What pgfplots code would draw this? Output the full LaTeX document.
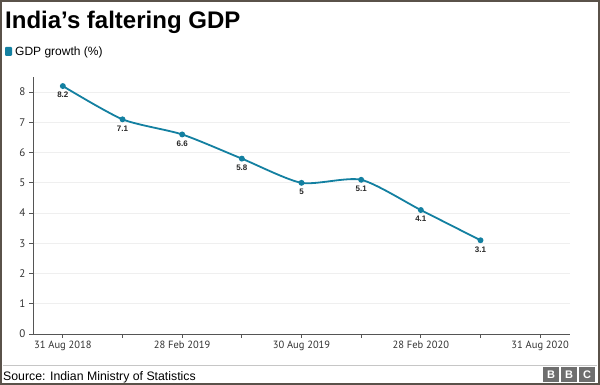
\documentclass[border=0pt]{standalone}
\usepackage{pgfplots}
\pgfplotsset{compat=1.18}
\usepackage{fontspec}
\setmainfont{Liberation Sans}
\newfontfamily\tickfont{PT Sans}
\definecolor{bbcteal}{HTML}{1380A1}
\definecolor{framec}{HTML}{5A524A}
\definecolor{axisc}{HTML}{555555}
\definecolor{gridc}{HTML}{EFEFEF}
\definecolor{logoc}{HTML}{6E6E6E}
\begin{document}
\begin{tikzpicture}[x=1pt,y=1pt]
\fill[white] (0,0) rectangle (600,385);
\draw[framec,line width=2.2pt] (1.1,1.1) rectangle (598.9,383.9);
\node[anchor=base west,inner sep=0pt,font=\fontsize{24}{28}\selectfont\bfseries] at (5,356) {India’s faltering GDP};
\fill[bbcteal,rounded corners=1pt] (5,329) rectangle (12,338);
\node[anchor=base west,inner sep=0pt,font=\fontsize{12}{14}\selectfont] at (15,329.5) {GDP growth (\%)};
\draw[gray!45,line width=0.8pt] (3,20) -- (597,20);
\node[anchor=base west,inner sep=0pt,font=\fontsize{12.3}{14}\selectfont] at (3,4) {Source: Indian Ministry of Statistics};
\foreach \i/\l in {0/B,1/B,2/C}{
  \fill[logoc] (543+\i*18,3) rectangle (559+\i*18,18);
  \node[white,font=\fontsize{11}{12}\selectfont\bfseries,inner sep=0pt] at (551+\i*18,10.5) {\l};
}
\begin{axis}[
  at={(33pt,51pt)}, anchor=south west,
  scale only axis, width=537pt, height=257pt,
  xmin=-0.5, xmax=8.5, ymin=0, ymax=8.5,
  axis lines*=left,
  axis line style={axisc,line width=0.9pt},
  xtick={0,...,8},
  xticklabels={31 Aug 2018,,28 Feb 2019,,30 Aug 2019,,28 Feb 2020,,31 Aug 2020},
  ytick={0,...,8},
  tick align=outside,
  major tick length=4pt,
  tick style={axisc,line width=0.9pt},
  ymajorgrids,
  grid style={gridc,line width=0.8pt},
  ticklabel style={font=\tickfont\fontsize{10.5}{12}\selectfont, text=black!80},
  yticklabel style={font=\tickfont\fontsize{11}{12}\selectfont},
  /pgf/number format/assume math mode=true,
  xticklabel style={yshift=1pt},
  clip=false,
]
\addplot[bbcteal,line width=1.8pt,smooth,tension=0.42,mark=*,mark size=2pt,
  mark options={fill=bbcteal,draw=bbcteal},
  nodes near coords,
  point meta=explicit symbolic,
  every node near coord/.append style={anchor=north,yshift=-2pt,font=\fontsize{8}{9}\selectfont\bfseries,text=black!85}]
  table[meta=lab] {
x y lab
0 8.2 8.2
1 7.1 7.1
2 6.6 6.6
3 5.8 5.8
4 5.0 5
5 5.1 5.1
6 4.1 4.1
7 3.1 3.1
};
\end{axis}
\end{tikzpicture}
\end{document}
